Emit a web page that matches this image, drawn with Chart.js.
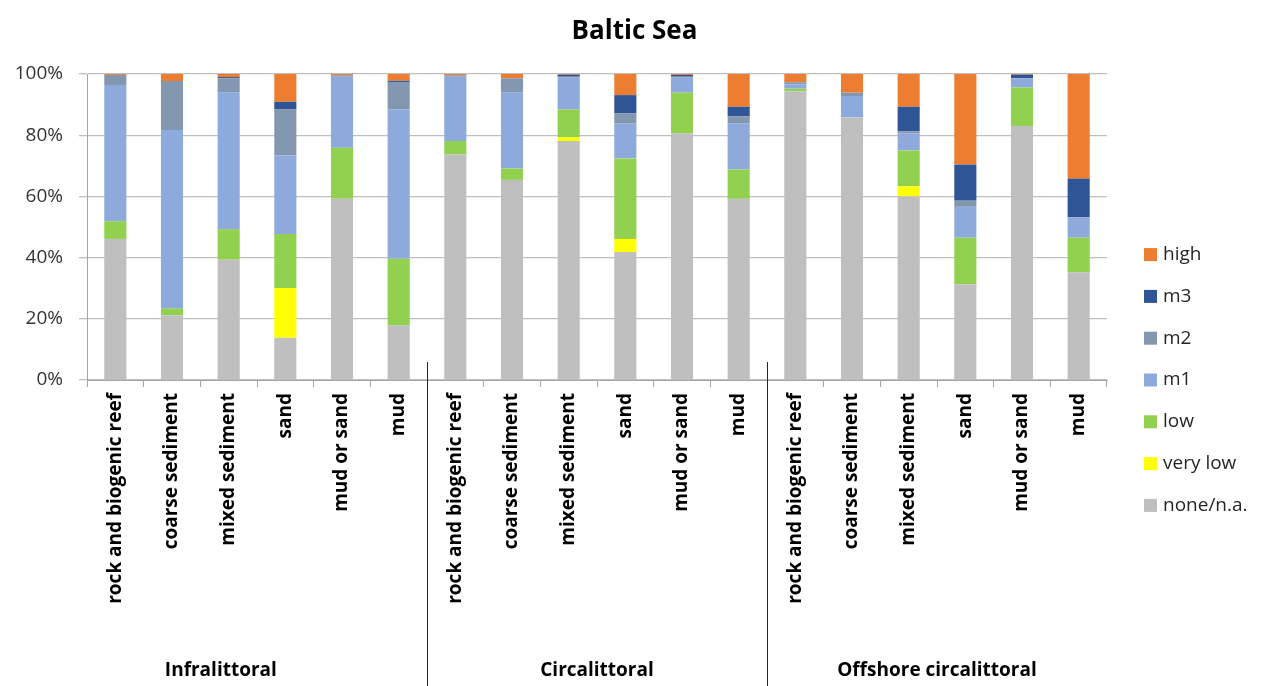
<!DOCTYPE html>
<html><head><meta charset="utf-8">
<script src="https://cdn.jsdelivr.net/npm/chart.js@4"></script>
<style>html,body{margin:0;padding:0;background:#fff}#wrap{width:1269px;height:686px;position:relative}</style>
</head><body><div id="wrap"><canvas id="c"></canvas></div>
<script>
const categories = [
  'rock and biogenic reef','coarse sediment','mixed sediment','sand','mud or sand','mud',
  'rock and biogenic reef','coarse sediment','mixed sediment','sand','mud or sand','mud',
  'rock and biogenic reef','coarse sediment','mixed sediment','sand','mud or sand','mud'
];
const zones = ['Infralittoral','Circalittoral','Offshore circalittoral'];
const zoneSize = 6;
const noneNA  = [46.1,21.2,39.3,13.8,59.2,17.9, 73.7,65.4,78.1,41.8,80.6,59.2, 94.4,85.9,60.0,31.3,83.0,35.2];
const veryLow = [0,0,0,16.3,0,0,               0,0,1.2,4.3,0,0,               0,0,3.3,0,0,0];
const low     = [5.8,2.2,10.0,17.6,16.7,21.7,  4.4,3.7,9.1,26.3,13.3,9.6,     0.8,0,11.7,15.2,12.6,11.3];
const m1      = [44.5,58.3,44.7,25.7,23.2,48.8, 21.0,24.9,10.4,11.4,4.9,15.0, 1.4,6.9,5.6,10.1,2.9,6.7];
const m2      = [3.3,16.0,4.6,15.0,0.5,9.0,    0.5,4.6,0.3,3.4,0.3,2.4,       0.7,1.1,0.7,2.0,0.2,0];
const m3      = [0,0,0.4,2.5,0,0.4,            0,0,0.7,5.9,0.6,3.1,           0,0,8.0,11.8,1.1,12.6];
const high    = [0.3,2.3,1.0,9.1,0.4,2.2,      0.4,1.4,0.2,6.9,0.3,10.7,      2.7,6.1,10.7,29.6,0.2,34.2];
const seriesNames = ['none/n.a.','very low','low','m1','m2','m3','high'];
const seriesColors = ['#BFBFBF','#FFFF00','#92D050','#8EA9DB','#8497B0','#2F5597','#ED7D31'];
const yTicks = [0,20,40,60,80,100];

const FONT = '"Open Sans", sans-serif';
const seriesData = [noneNA, veryLow, low, m1, m2, m3, high];

const datasets = seriesData.map((d,i)=>({
  label: seriesNames[i], data: d, backgroundColor: seriesColors[i],
  borderWidth: 0, barPercentage: 0.39, categoryPercentage: 1.0
}));

const extras = {
  id: 'extras',
  afterDraw(chart){
    const ctx = chart.ctx, xs = chart.scales.x, ys = chart.scales.y, ca = chart.chartArea;
    const boundary = i => (xs.getPixelForValue(i-1) + xs.getPixelForValue(i)) / 2;
    ctx.save();
    ctx.font = '19px ' + FONT;
    const tickRight = ca.left - ys.options.grid.tickLength - ys.options.ticks.padding;
    const labelLeft = tickRight - ctx.measureText(yTicks[yTicks.length-1] + '%').width;
    // separators between zones
    ctx.strokeStyle = '#262626'; ctx.lineWidth = 1;
    for (let g=1; g<zones.length; g++){
      const x = Math.round(boundary(g*zoneSize)) + 0.5;
      ctx.beginPath(); ctx.moveTo(x, ca.bottom - 18); ctx.lineTo(x, chart.height); ctx.stroke();
    }
    // zone labels
    ctx.fillStyle = '#000'; ctx.font = 'bold 19px ' + FONT;
    ctx.textAlign = 'center'; ctx.textBaseline = 'middle';
    zones.forEach((z,g)=>{
      const l = g===0 ? labelLeft : boundary(g*zoneSize);
      const r = g===zones.length-1 ? ca.right : boundary((g+1)*zoneSize);
      ctx.fillText(z, (l+r)/2, chart.height - 15);
    });
    // legend (reversed order)
    ctx.font = '19px ' + FONT; ctx.textAlign = 'left';
    const n = datasets.length, step = 41.8;
    const cy = (ca.top + chart.height) / 2;
    const x0 = ca.right + 37;
    for (let k=0; k<n; k++){
      const i = n-1-k;
      const y = cy + (k - (n-1)/2) * step;
      ctx.fillStyle = seriesColors[i];
      ctx.fillRect(x0, y-6.5, 13, 13);
      ctx.fillStyle = '#262626';
      ctx.fillText(seriesNames[i], x0 + 19, y);
    }
    ctx.restore();
  }
};

new Chart(document.getElementById('c'), {
  type: 'bar',
  data: { labels: categories, datasets },
  options: {
    responsive: true, maintainAspectRatio: false, animation: false,
    layout: { padding: 0 },
    plugins: {
      legend: { display: false },
      tooltip: { enabled: false },
      title: { display: true, text: 'Baltic Sea', color: '#000',
        font: { family: FONT, size: 26, weight: 'bold' }, padding: { top: 16, bottom: 26.8 } }
    },
    scales: {
      x: {
        stacked: true,
        grid: { display: true, drawOnChartArea: false, drawTicks: true, tickLength: 7, offset: true, color: '#a6a6a6' },
        border: { color: '#a6a6a6', width: 1 },
        ticks: { autoSkip: false, minRotation: 90, maxRotation: 90, padding: 6, color: '#000',
          font: { family: FONT, size: 19, weight: 'bold' } },
        afterFit: s => { s.height = 306; }
      },
      y: {
        stacked: true, min: 0, max: 100,
        afterBuildTicks: s => { s.ticks = yTicks.map(v => ({ value: v })); },
        ticks: { callback: v => v + '%', padding: 16, color: '#333', font: { family: FONT, size: 19 } },
        grid: { color: '#bfbfbf', lineWidth: 1.3, tickLength: 8 },
        border: { color: '#a6a6a6' },
        afterFit: s => { s.width = 87; }
      },
      legendSpace: {
        type: 'linear', position: 'right', display: true,
        grid: { display: false, drawTicks: false }, border: { display: false },
        ticks: { display: false },
        afterFit: s => { s.width = 162; }
      }
    }
  },
  plugins: [extras]
});
</script></body></html>
